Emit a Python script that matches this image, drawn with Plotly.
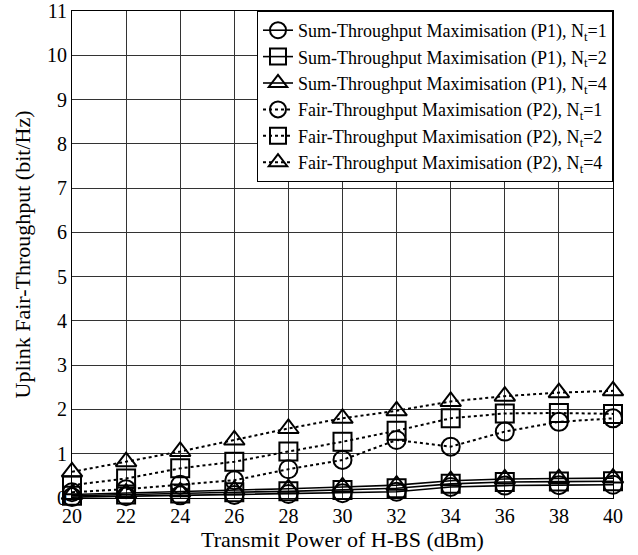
import plotly.graph_objects as go

power_dbm = [20, 22, 24, 26, 28, 30, 32, 34, 36, 38, 40]

p1_nt1 = [0.02, 0.04, 0.06, 0.07, 0.09, 0.11, 0.14, 0.25, 0.28, 0.29, 0.30]
p1_nt2 = [0.05, 0.08, 0.10, 0.13, 0.15, 0.18, 0.22, 0.32, 0.36, 0.37, 0.38]
p1_nt4 = [0.08, 0.11, 0.14, 0.18, 0.21, 0.25, 0.29, 0.39, 0.43, 0.44, 0.45]

p2_nt1 = [0.13, 0.20, 0.30, 0.40, 0.65, 0.86, 1.31, 1.16, 1.50, 1.72, 1.80]
p2_nt2 = [0.29, 0.44, 0.67, 0.82, 1.05, 1.27, 1.52, 1.80, 1.91, 1.92, 1.90]
p2_nt4 = [0.59, 0.82, 1.05, 1.31, 1.57, 1.80, 1.97, 2.18, 2.30, 2.38, 2.42]

series = [
    ("Sum-Throughput Maximisation (P1), N<sub>t</sub>=1", p1_nt1, "circle-open", "solid"),
    ("Sum-Throughput Maximisation (P1), N<sub>t</sub>=2", p1_nt2, "square-open", "solid"),
    ("Sum-Throughput Maximisation (P1), N<sub>t</sub>=4", p1_nt4, "triangle-up-open", "solid"),
    ("Fair-Throughput Maximisation (P2), N<sub>t</sub>=1", p2_nt1, "circle-open", "dot"),
    ("Fair-Throughput Maximisation (P2), N<sub>t</sub>=2", p2_nt2, "square-open", "dot"),
    ("Fair-Throughput Maximisation (P2), N<sub>t</sub>=4", p2_nt4, "triangle-up-open", "dot"),
]

fig = go.Figure()
for name, vals, sym, dash in series:
    fig.add_trace(go.Scatter(
        x=power_dbm, y=vals, name=name, mode="lines+markers",
        line=dict(color="black", width=2 if dash == "dot" else 1.6, dash=dash),
        marker=dict(symbol=sym, size=18, color="black", line=dict(width=2, color="black")),
        cliponaxis=False,
    ))

font_family = "Liberation Serif"
fig.update_layout(
    width=638, height=555,
    margin=dict(l=72, r=25, t=11, b=57, autoexpand=False),
    paper_bgcolor="white", plot_bgcolor="white",
    font=dict(family=font_family, size=20, color="black"),
    showlegend=True,
    legend=dict(
        x=1, y=1, xanchor="right", yanchor="top",
        bgcolor="white", bordercolor="black", borderwidth=1,
        font=dict(family=font_family, size=18, color="black"),
        tracegroupgap=0, itemwidth=30,
    ),
    xaxis=dict(
        title=dict(text="Transmit Power of H-BS (dBm)", font=dict(size=22), standoff=2),
        range=[20, 40], tickvals=power_dbm, ticks="", automargin=False,
        showgrid=True, gridcolor="#333", gridwidth=1,
        showline=True, linecolor="black", linewidth=1, mirror=True,
        zeroline=False, tickfont=dict(size=20),
    ),
    yaxis=dict(
        title=dict(text="Uplink Fair-Throughput (bit/Hz)", font=dict(size=22), standoff=10),
        range=[0, 11], tickvals=list(range(0, 12)), ticks="", automargin=False,
        showgrid=True, gridcolor="#333", gridwidth=1,
        showline=True, linecolor="black", linewidth=1, mirror=True,
        zeroline=False, tickfont=dict(size=20),
    ),
)

fig.write_html("out.html")
